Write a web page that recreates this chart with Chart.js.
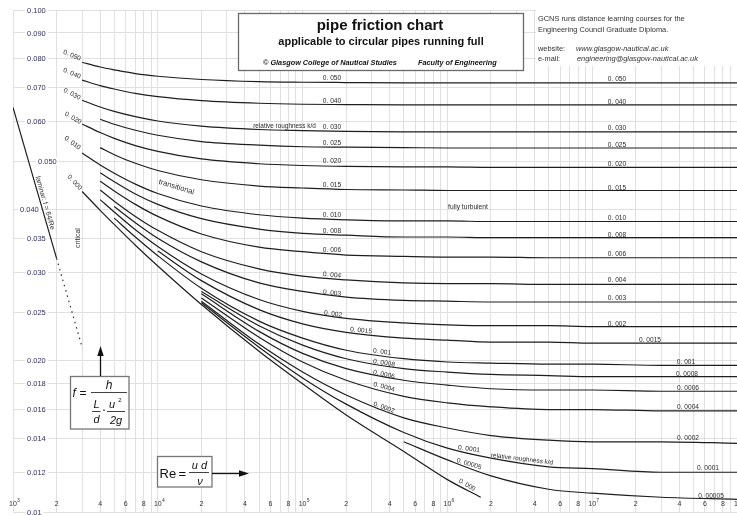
<!DOCTYPE html>
<html>
<head>
<meta charset="utf-8">
<script src="https://cdn.jsdelivr.net/npm/chart.js"></script>
<style>
  html, body { margin: 0; padding: 0; background: #fff; }
  #wrap { width: 737px; height: 515px; position: relative; }
</style>
</head>
<body>
<div id="wrap"><canvas id="chart"></canvas></div>
<script>
// Reynolds numbers shared by the roughness curves
const reGrid = [3e3, 4e3, 5e3, 7e3, 1e4, 2e4, 5e4, 1e5, 2e5, 5e5, 1e6, 2e6, 5e6, 1e7, 3e7, 1e8];
const n = null;

// friction factor f for each relative roughness k/d
const f050   = [0.0787, 0.0770, 0.0760, 0.0747, 0.0738, 0.0727, 0.0720, 0.0718, 0.0717, 0.0716, 0.0716, 0.0716, 0.0716, 0.0716, 0.0716, 0.0716];
const f040   = [0.0725, 0.0707, 0.0696, 0.0682, 0.0672, 0.0660, 0.0652, 0.0649, 0.0648, 0.0647, 0.0647, 0.0647, 0.0647, 0.0647, 0.0647, 0.0647];
const f030   = [0.0661, 0.0641, 0.0628, 0.0613, 0.0601, 0.0587, 0.0578, 0.0575, 0.0573, 0.0572, 0.0572, 0.0572, 0.0572, 0.0572, 0.0572, 0.0572];
const f025   = [n, 0.0606, 0.0592, 0.0576, 0.0563, 0.0547, 0.0538, 0.0534, 0.0533, 0.0532, 0.0531, 0.0531, 0.0531, 0.0531, 0.0531, 0.0531];
const f020   = [0.0593, 0.0570, 0.0555, 0.0537, 0.0523, 0.0505, 0.0494, 0.0490, 0.0488, 0.0487, 0.0487, 0.0486, 0.0486, 0.0486, 0.0486, 0.0486];
const f015   = [n, 0.0532, 0.0515, 0.0495, 0.0479, 0.0459, 0.0446, 0.0442, 0.0439, 0.0438, 0.0437, 0.0437, 0.0437, 0.0437, 0.0437, 0.0437];
const f010   = [0.0519, 0.0491, 0.0473, 0.0450, 0.0431, 0.0407, 0.0391, 0.0385, 0.0382, 0.0380, 0.0380, 0.0379, 0.0379, 0.0379, 0.0379, 0.0379];
const f008   = [n, 0.0474, 0.0455, 0.0430, 0.0410, 0.0384, 0.0366, 0.0359, 0.0356, 0.0353, 0.0353, 0.0352, 0.0352, 0.0352, 0.0352, 0.0352];
const f006   = [n, 0.0456, 0.0436, 0.0410, 0.0388, 0.0358, 0.0337, 0.0330, 0.0325, 0.0323, 0.0322, 0.0322, 0.0321, 0.0321, 0.0321, 0.0321];
const f004   = [n, 0.0438, 0.0416, 0.0388, 0.0364, 0.0330, 0.0305, 0.0295, 0.0290, 0.0286, 0.0285, 0.0285, 0.0284, 0.0284, 0.0284, 0.0284];
const f003   = [n, n, 0.0406, 0.0377, 0.0351, 0.0315, 0.0286, 0.0275, 0.0268, 0.0264, 0.0263, 0.0262, 0.0262, 0.0262, 0.0262, 0.0262];
const f002   = [n, 0.0419, 0.0396, 0.0365, 0.0338, 0.0298, 0.0265, 0.0251, 0.0243, 0.0238, 0.0236, 0.0235, 0.0235, 0.0234, 0.0234, 0.0234];
const f0015  = [n, n, n, n, 0.0331, 0.0289, 0.0253, 0.0237, 0.0228, 0.0222, 0.0220, 0.0218, 0.0218, 0.0217, 0.0217, 0.0217];
const f001   = [n, n, 0.0385, 0.0353, 0.0324, 0.0279, 0.0240, 0.0222, 0.0210, 0.0202, 0.0199, 0.0198, 0.0197, 0.0197, 0.0196, 0.0196];
const f0008  = [n, n, n, n, n, 0.0275, 0.0235, 0.0215, 0.0202, 0.0193, 0.0190, 0.0188, 0.0187, 0.0186, 0.0186, 0.0186];
const f0006  = [n, n, n, n, n, 0.0272, 0.0229, 0.0207, 0.0193, 0.0183, 0.0179, 0.0176, 0.0175, 0.0175, 0.0174, 0.0174];
const f0004  = [n, n, n, n, n, 0.0267, 0.0223, 0.0199, 0.0183, 0.0170, 0.0165, 0.0162, 0.0160, 0.0160, 0.0159, 0.0159];
const f0002  = [n, n, n, n, n, 0.0263, 0.0216, 0.0190, 0.0171, 0.0154, 0.0147, 0.0142, 0.0139, 0.0138, 0.0138, 0.0137];
const f0001  = [n, n, n, n, n, 0.0261, 0.0213, 0.0185, 0.0164, 0.0144, 0.0134, 0.0128, 0.0123, 0.0122, 0.0120, 0.0120];
const f00005 = [n, n, n, n, n, n, n, n, n, 0.0138, 0.0127, 0.0118, 0.0111, 0.0109, 0.0107, 0.0106];

// smooth pipe (k/d = 0)
const smoothRe = [3e3, 4e3, 5e3, 7e3, 1e4, 2e4, 5e4, 1e5, 2e5, 5e5, 1e6, 1.7e6];
const smoothF  = [0.0435, 0.0399, 0.0374, 0.0340, 0.0309, 0.0259, 0.0209, 0.0180, 0.0156, 0.0132, 0.0116, 0.0107];

// laminar line and its dotted continuation through the critical zone
const lamRe  = [1e3, 2e3];
const lamF   = [0.064, 0.032];
const critRe = [2e3, 3e3];
const critF  = [0.032, 0.0213];

const roughSeries = [f050, f040, f030, f025, f020, f015, f010, f008, f006, f004, f003,
                     f002, f0015, f001, f0008, f0006, f0004, f0002, f0001, f00005];
const roughNames = ['0.050', '0.040', '0.030', '0.025', '0.020', '0.015', '0.010', '0.008', '0.006', '0.004', '0.003',
                    '0.002', '0.0015', '0.001', '0.0008', '0.0006', '0.0004', '0.0002', '0.0001', '0.00005'];

// axis ticks
const yTicks = [0.1, 0.09, 0.08, 0.07, 0.06, 0.05, 0.04, 0.035, 0.03, 0.025, 0.02, 0.018, 0.016, 0.014, 0.012, 0.01];
const yTickLabels = ['0.100', '0.090', '0.080', '0.070', '0.060', '0.050', '0.040', '0.035', '0.030', '0.025',
                     '0.020', '0.018', '0.016', '0.014', '0.012', '0.01'];
const xDecades = [3, 4, 5, 6, 7];
const xMinorLabels = [2, 4, 6, 8];

const xGrid = [];
xDecades.forEach(d => { for (let m = 1; m <= 9; m++) xGrid.push(m * Math.pow(10, d)); });
xGrid.push(1e8);

// text along the curves: [text, centre x, centre y, angle deg]
const curveNotes = [
  ['0. 050', 72, 55.5, 23], ['0. 040', 72, 73.5, 23], ['0. 030', 72, 94, 27], ['0. 020', 73, 118, 30],
  ['0. 010', 72.5, 143, 36], ['0. 000', 74.5, 182.5, 47],
  ['0. 050', 332, 78, 0], ['0. 040', 332, 101, 0], ['0. 030', 332, 127.5, 0], ['0. 025', 332, 143, 0],
  ['0. 020', 332, 161, 0], ['0. 015', 332, 185, 0], ['0. 010', 332, 215, 0], ['0. 008', 332, 231, 0],
  ['0. 006', 332, 250.5, 0], ['0. 004', 332, 275, 5], ['0. 003', 332, 293, 7], ['0. 002', 333, 314, 8],
  ['0. 0015', 361, 330.5, 5], ['0. 001', 382, 352, 8], ['0. 0008', 384, 363, 10], ['0. 0006', 384, 374.5, 12],
  ['0. 0004', 384, 387, 15], ['0. 0002', 384, 407.5, 20], ['0. 0001', 469, 449, 8], ['0. 00005', 469, 464, 17],
  ['0. 000', 467, 485, 30],
  ['0. 050', 617, 79.5, 0], ['0. 040', 617, 102.5, 0], ['0. 030', 617, 128, 0], ['0. 025', 617, 145.5, 0],
  ['0. 020', 617, 164, 0], ['0. 015', 617, 188, 0], ['0. 010', 617, 218.5, 0], ['0. 008', 617, 235, 0],
  ['0. 006', 617, 254, 0], ['0. 004', 617, 280, 0], ['0. 003', 617, 298, 0], ['0. 002', 617, 324, 0],
  ['0. 0015', 650, 340, 0], ['0. 001', 686, 362.5, 0], ['0. 0008', 687, 374, 0], ['0. 0006', 688, 388, 0],
  ['0. 0004', 688, 407, 0], ['0. 0002', 688, 438, 0], ['0. 0001', 708, 468, 0], ['0. 00005', 711, 496, 0]
];

const FONT = '"Liberation Sans", Arial, Helvetica, sans-serif';

function pts(xs, ys) {
  return xs.map((x, i) => ({ x: x, y: ys[i] })).filter(p => p.y != null);
}

const lineStyle = {
  borderColor: '#1e1e1e', borderWidth: 1.2, pointRadius: 0, fill: false,
  cubicInterpolationMode: 'monotone'
};

const datasets = roughSeries.map((s, i) => Object.assign({ label: 'k/d ' + roughNames[i], data: pts(reGrid, s) }, lineStyle));
datasets.push(Object.assign({ label: 'smooth', data: pts(smoothRe, smoothF) }, lineStyle));
datasets.push(Object.assign({ label: 'laminar', data: pts(lamRe, lamF) }, lineStyle, { cubicInterpolationMode: 'default', tension: 0 }));
datasets.push(Object.assign({ label: 'critical', data: pts(critRe, critF) }, lineStyle,
  { cubicInterpolationMode: 'default', tension: 0, borderDash: [1.5, 4], borderColor: '#333' }));

function rotText(ctx, txt, x, y, deg) {
  ctx.save();
  ctx.translate(x, y);
  ctx.rotate(deg * Math.PI / 180);
  ctx.fillText(txt, 0, 0);
  ctx.restore();
}

function arrowHead(ctx, x, y, dir) {
  // dir: 'up' or 'right', tip at (x, y)
  ctx.beginPath();
  if (dir === 'up') { ctx.moveTo(x, y); ctx.lineTo(x - 3.2, y + 10); ctx.lineTo(x + 3.2, y + 10); }
  else { ctx.moveTo(x, y); ctx.lineTo(x - 10, y - 3.2); ctx.lineTo(x - 10, y + 3.2); }
  ctx.closePath();
  ctx.fill();
}

const decorations = {
  id: 'decorations',
  afterDraw(chart) {
    const ctx = chart.ctx;
    const xs = chart.scales.x, ys = chart.scales.y;
    ctx.save();

    // y tick labels, drawn inside the plot over the grid
    ctx.font = '7.5px ' + FONT;
    ctx.textBaseline = 'middle';
    ctx.textAlign = 'left';
    yTicks.forEach((v, i) => {
      const y = ys.getPixelForValue(v);
      const lx = v === 0.05 ? 38 : (v === 0.04 ? 20 : 27);
      const w = ctx.measureText(yTickLabels[i]).width;
      ctx.fillStyle = '#fff';
      ctx.fillRect(lx - 2, y - 4, w + 4, 8);
      ctx.fillStyle = '#2f2f5f';
      ctx.fillText(yTickLabels[i], lx, y + 0.5);
    });

    // x tick labels
    ctx.fillStyle = '#333';
    ctx.textAlign = 'center';
    const ly = 504;
    xDecades.forEach(d => {
      const x = xs.getPixelForValue(Math.pow(10, d));
      ctx.font = '7px ' + FONT;
      ctx.fillText('10', x, ly);
      ctx.font = '5px ' + FONT;
      ctx.fillText(String(d), x + 5.5, ly - 3.5);
      ctx.font = '7px ' + FONT;
      xMinorLabels.forEach(m => ctx.fillText(String(m), xs.getPixelForValue(m * Math.pow(10, d)), ly));
    });
    ctx.fillText('1', xs.getPixelForValue(1e8) - 1, ly);

    // title box
    ctx.fillStyle = '#fff';
    ctx.fillRect(238, 13, 285, 57);
    ctx.strokeStyle = '#6a6a6a';
    ctx.lineWidth = 1.3;
    ctx.strokeRect(238.5, 13.5, 285, 57);
    ctx.fillStyle = '#111';
    ctx.textBaseline = 'alphabetic';
    ctx.textAlign = 'center';
    ctx.font = 'bold 15px ' + FONT;
    ctx.fillText('pipe friction chart', 380, 30);
    ctx.font = 'bold 11px ' + FONT;
    ctx.fillText('applicable to circular pipes running full', 381, 44.5);
    ctx.textAlign = 'left';
    ctx.font = 'italic bold 7.3px ' + FONT;
    ctx.fillText('\u00a9 Glasgow College of Nautical Studies', 263, 64.5);
    ctx.fillText('Faculty of Engineering', 418, 64.5);

    // right hand text block
    ctx.fillStyle = '#fff';
    ctx.fillRect(536, 0, 201, 66);
    ctx.fillStyle = '#333';
    ctx.font = '7.4px ' + FONT;
    ctx.fillText('GCNS runs distance learning courses for the', 538, 21);
    ctx.fillText('Engineering Council Graduate Diploma.', 538, 31.5);
    ctx.fillText('website:', 538, 50.5);
    ctx.fillText('e-mail:', 538, 61);
    ctx.font = 'italic 7.4px ' + FONT;
    ctx.fillText('www.glasgow-nautical.ac.uk', 576, 50.5);
    ctx.fillText('engineering@glasgow-nautical.ac.uk', 577, 61);

    // friction factor definition box
    ctx.fillStyle = '#fff';
    ctx.fillRect(70, 376, 59, 53);
    ctx.strokeStyle = '#777';
    ctx.lineWidth = 1.3;
    ctx.strokeRect(70.5, 376.5, 58.5, 52.5);
    ctx.fillStyle = '#111';
    ctx.strokeStyle = '#111';
    ctx.lineWidth = 0.8;
    ctx.font = 'italic 12px ' + FONT;
    ctx.textAlign = 'left';
    ctx.fillText('f', 72.5, 397);
    ctx.font = '12px ' + FONT;
    ctx.fillText('=', 79.5, 397);
    ctx.textAlign = 'center';
    ctx.font = 'italic 12px ' + FONT;
    ctx.fillText('h', 109, 389);
    ctx.beginPath();
    ctx.moveTo(91, 392.5); ctx.lineTo(127, 392.5);
    ctx.moveTo(92, 411.5); ctx.lineTo(100.5, 411.5);
    ctx.moveTo(107, 411.5); ctx.lineTo(125, 411.5);
    ctx.stroke();
    ctx.font = 'italic 11px ' + FONT;
    ctx.fillText('L', 96.5, 408);
    ctx.fillText('d', 96.5, 423);
    ctx.fillText('u', 112, 407.5);
    ctx.fillText('2g', 116, 424);
    ctx.font = '6px ' + FONT;
    ctx.fillText('2', 120, 402);
    ctx.font = 'bold 9px ' + FONT;
    ctx.fillText('.', 104, 411);
    // arrow up from the box
    ctx.lineWidth = 1.3;
    ctx.beginPath();
    ctx.moveTo(100.5, 376); ctx.lineTo(100.5, 355);
    ctx.stroke();
    arrowHead(ctx, 100.5, 346, 'up');

    // Reynolds number box
    ctx.fillStyle = '#fff';
    ctx.fillRect(157, 456, 55, 31);
    ctx.strokeStyle = '#777';
    ctx.lineWidth = 1.3;
    ctx.strokeRect(157.5, 456.5, 54.5, 30.5);
    ctx.fillStyle = '#111';
    ctx.strokeStyle = '#111';
    ctx.textAlign = 'left';
    ctx.font = '13px ' + FONT;
    ctx.fillText('Re', 159.5, 477.5);
    ctx.fillText('=', 178.5, 477.5);
    ctx.textAlign = 'center';
    ctx.font = 'italic 11px ' + FONT;
    ctx.fillText('u d', 199.5, 469);
    ctx.fillText('\u03bd', 200, 485);
    ctx.lineWidth = 0.8;
    ctx.beginPath();
    ctx.moveTo(189, 472.5); ctx.lineTo(209, 472.5);
    ctx.stroke();
    ctx.lineWidth = 1.3;
    ctx.beginPath();
    ctx.moveTo(212, 473.5); ctx.lineTo(240, 473.5);
    ctx.stroke();
    arrowHead(ctx, 249, 473.5, 'right');

    // labels along the curves
    ctx.fillStyle = '#2a2a2a';
    ctx.textAlign = 'center';
    ctx.textBaseline = 'middle';
    ctx.font = '6.6px ' + FONT;
    curveNotes.forEach(c => rotText(ctx, c[0], c[1], c[2], c[3]));
    ctx.font = '6.4px ' + FONT;
    rotText(ctx, 'relative roughness k/d', 284.5, 126.5, 0);
    rotText(ctx, 'relative roughness k/d', 522, 459, 7);
    ctx.font = '6.7px ' + FONT;
    rotText(ctx, 'fully turbulent', 468, 207, 0);
    ctx.font = '7.6px ' + FONT;
    rotText(ctx, 'transitional', 176.5, 187, 17);
    ctx.font = '7px ' + FONT;
    rotText(ctx, 'laminar: f = 64/Re', 45, 203, 74);
    rotText(ctx, 'critical', 78.5, 238, -90);

    ctx.restore();
  }
};

new Chart(document.getElementById('chart'), {
  type: 'line',
  data: { datasets: datasets },
  options: {
    responsive: true,
    maintainAspectRatio: false,
    animation: false,
    devicePixelRatio: 1,
    layout: { padding: { left: 13, top: 10, right: 0, bottom: 3 } },
    plugins: { legend: { display: false }, tooltip: { enabled: false } },
    scales: {
      x: {
        type: 'logarithmic', min: 1e3, max: 1e8,
        afterBuildTicks: s => { s.ticks = xGrid.map(v => ({ value: v })); },
        afterFit: s => { s.height = 0; },
        ticks: { display: false },
        grid: { color: '#e0e0e0', lineWidth: 1, drawTicks: false },
        border: { display: false }
      },
      y: {
        type: 'logarithmic', min: 0.01, max: 0.1,
        afterBuildTicks: s => { s.ticks = yTicks.map(v => ({ value: v })); },
        afterFit: s => { s.width = 0; },
        ticks: { display: false },
        grid: { color: '#e0e0e0', lineWidth: 1, drawTicks: false },
        border: { display: false }
      }
    }
  },
  plugins: [decorations]
});
</script>
</body>
</html>
